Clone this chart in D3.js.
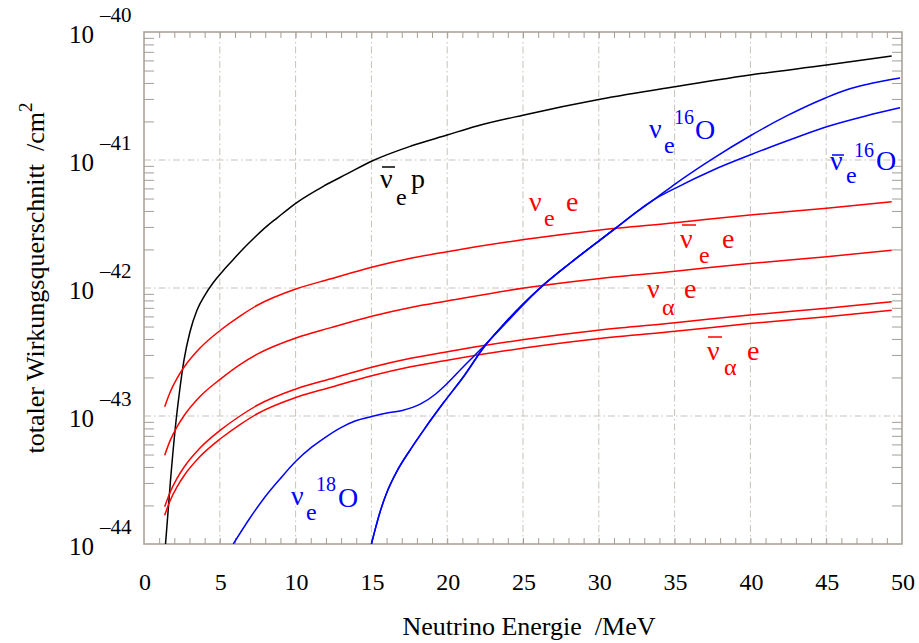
<!DOCTYPE html>
<html><head><meta charset="utf-8">
<script src="https://cdn.jsdelivr.net/npm/d3@7"></script>
<style>body{margin:0;background:#fff}svg{display:block}text{white-space:pre}</style>
</head><body>
<svg id="c" width="919" height="643"></svg>
<script>
// ---- data (energies in MeV, cross sections in cm^2) ----
const xTicks = [0,5,10,15,20,25,30,35,40,45,50];
const yExponents = [-44,-43,-42,-41,-40];

const nuebarP_E = [1.42,1.75,2.05,2.34,2.64,3.03,3.5,4.02,4.55,5.15,5.74,6.53,7.26,8.05,8.77,10.03,11.87,13.39,15.04,17.61,19.99,21.97,25.07,30.08,35.03,39.97,45.03,49.32];
const nuebarP_S = [1.0e-44,3.16e-44,7.78e-44,1.54e-43,2.74e-43,4.53e-43,6.73e-43,8.81e-43,1.094e-42,1.334e-42,1.596e-42,2.018e-42,2.46e-42,3.0e-42,3.52e-42,4.61e-42,6.27e-42,7.78e-42,9.82e-42,1.285e-41,1.567e-41,1.845e-41,2.25e-41,2.98e-41,3.74e-41,4.61e-41,5.52e-41,6.49e-41];

// neutrino-electron scattering, common energy grid
const scatE = [1.365,1.715,2.177,2.639,3.694,5.059,6.332,7.474,10.11,12.27,15.02,17.59,20.01,25.07,30.08,35.03,39.97,45.03,49.32];
const nueE_S = [1.183e-43,1.528e-43,1.968e-43,2.404e-43,3.396e-43,4.70e-43,6.04e-43,7.33e-43,9.91e-43,1.175e-42,1.452e-42,1.706e-42,1.923e-42,2.39e-42,2.84e-42,3.236e-42,3.715e-42,4.20e-42,4.72e-42];
const nuebarE_S = [4.94e-44,6.39e-44,8.23e-44,1.005e-43,1.42e-43,1.95e-43,2.52e-43,3.04e-43,4.10e-43,4.88e-43,6.02e-43,7.05e-43,7.92e-43,9.99e-43,1.187e-42,1.353e-42,1.553e-42,1.756e-42,1.973e-42];
const nuaE_S = [1.958e-44,2.529e-44,3.257e-44,3.979e-44,5.62e-44,7.78e-44,1.0e-43,1.213e-43,1.640e-43,1.945e-43,2.403e-43,2.823e-43,3.183e-43,3.955e-43,4.70e-43,5.356e-43,6.148e-43,6.951e-43,7.81e-43];
const nuabarE_S = [1.68e-44,2.17e-44,2.795e-44,3.414e-44,4.82e-44,6.67e-44,8.58e-44,1.041e-43,1.407e-43,1.669e-43,2.062e-43,2.423e-43,2.731e-43,3.394e-43,4.03e-43,4.595e-43,5.275e-43,5.964e-43,6.70e-43];

const nue18O_E = [5.89,6.99,7.98,8.97,10.03,11.08,11.94,12.93,13.92,15.02,16.03,17.04,18.25,19.24,20.01,21.11,22.43,23.75,25.07,26.12,28.1,30.08,31.18];
const nue18O_S = [1.0e-44,1.596e-44,2.328e-44,3.22e-44,4.45e-44,5.73e-44,6.79e-44,8.05e-44,9.14e-44,9.91e-44,1.054e-43,1.104e-43,1.242e-43,1.486e-43,1.80e-43,2.46e-43,3.52e-43,5.14e-43,7.50e-43,9.95e-43,1.56e-42,2.37e-42,2.98e-42];

const nue16O_E = [15.0,15.24,15.57,16.03,16.69,17.55,18.54,19.79,21.11,22.43,23.75,25.07,26.12,28.1,30.08,31.18,32.5,33.6,35.03,37.55,39.97,42.39,45.03,46.31,47.67,49.87];
const nue16O_S = [1.0e-44,1.288e-44,1.778e-44,2.547e-44,3.715e-44,5.42e-44,8.05e-44,1.285e-43,2.054e-43,3.46e-43,5.24e-43,7.64e-43,1.0e-42,1.56e-42,2.37e-42,2.98e-42,3.94e-42,4.87e-42,6.49e-42,1.03e-41,1.54e-41,2.21e-41,3.08e-41,3.52e-41,3.89e-41,4.375e-41];

const nuebar16O_E = [15.0,15.24,15.57,16.03,16.69,17.55,18.54,19.79,21.11,22.43,23.75,25.07,26.12,28.1,30.08,31.18,32.5,33.6,35.03,37.55,39.97,42.39,45.03,47.67,49.87];
const nuebar16O_S = [1.0e-44,1.288e-44,1.778e-44,2.547e-44,3.715e-44,5.42e-44,8.05e-44,1.285e-43,2.054e-43,3.46e-43,5.24e-43,7.64e-43,1.0e-42,1.56e-42,2.37e-42,2.98e-42,3.94e-42,4.87e-42,6.01e-42,8.36e-42,1.094e-41,1.406e-41,1.82e-41,2.22e-41,2.56e-41];

// ---- layout ----
const svg = d3.select('#c');
const L = 144, R = 902, T = 32, B = 544;
const x = d3.scaleLinear().domain([0,50]).range([L,R]);
const y = d3.scaleLog().domain([1e-44,1e-40]).range([B,T]);
const frameCol = '#a59d94', gridCol = '#c9c2ba';
const serif = '"Liberation Serif","Times New Roman",serif';

// grid
const g = svg.append('g');
xTicks.slice(1,-1).forEach(v => g.append('line').attr('x1',x(v)).attr('x2',x(v)).attr('y1',T).attr('y2',B)
  .attr('stroke',gridCol).attr('stroke-width',1).attr('stroke-dasharray','7,3,1.5,3'));
yExponents.slice(1,-1).forEach(e => g.append('line').attr('x1',L).attr('x2',R).attr('y1',y(Math.pow(10,e))).attr('y2',y(Math.pow(10,e)))
  .attr('stroke',gridCol).attr('stroke-width',1).attr('stroke-dasharray','7,3,1.5,3'));

// minor ticks
const xAxisB = d3.axisBottom(x).tickValues(d3.range(1,50)).tickSize(-6).tickFormat('');
const xAxisT = d3.axisTop(x).tickValues(d3.range(1,50)).tickSize(-6).tickFormat('');
const minorY = [];
for (let e=-44;e<-40;e++) for (let m=2;m<=9;m++) minorY.push(m*Math.pow(10,e));
const yAxisL = d3.axisLeft(y).tickValues(minorY).tickSize(-10).tickFormat('');
const yAxisR = d3.axisRight(y).tickValues(minorY).tickSize(-10).tickFormat('');
[[xAxisB,`translate(0,${B})`],[xAxisT,`translate(0,${T})`],[yAxisL,`translate(${L},0)`],[yAxisR,`translate(${R},0)`]].forEach(([ax,tr])=>{
  const a = svg.append('g').attr('transform',tr).call(ax);
  a.select('.domain').remove();
  a.selectAll('line').attr('stroke',frameCol).attr('stroke-width',1);
});

// frame
svg.append('rect').attr('x',L).attr('y',T).attr('width',R-L).attr('height',B-T)
  .attr('fill','none').attr('stroke',frameCol).attr('stroke-width',1.5);

// curves
svg.append('clipPath').attr('id','clip').append('rect').attr('x',L).attr('y',T).attr('width',R-L).attr('height',B-T);
const line = d3.line().x(d=>x(d[0])).y(d=>y(d[1])).curve(d3.curveMonotoneX);
const series = [
  [nuebarP_E,nuebarP_S,'#000000'],
  [scatE,nueE_S,'#ff0000'],
  [scatE,nuebarE_S,'#ff0000'],
  [scatE,nuaE_S,'#ff0000'],
  [scatE,nuabarE_S,'#ff0000'],
  [nue18O_E,nue18O_S,'#0000ff'],
  [nue16O_E,nue16O_S,'#0000ff'],
  [nuebar16O_E,nuebar16O_S,'#0000ff']
];
const cg = svg.append('g').attr('clip-path','url(#clip)');
series.forEach(([E,S,c]) => cg.append('path').datum(E.map((e,i)=>[e,S[i]])).attr('d',line)
  .attr('fill','none').attr('stroke',c).attr('stroke-width',1.5));

// tick labels
xTicks.forEach(v => svg.append('text').attr('x',x(v)+1).attr('y',590).attr('text-anchor','middle')
  .attr('font-family',serif).attr('font-size',24).text(v));
yExponents.forEach(e => {
  const yy = y(Math.pow(10,e));
  svg.append('text').attr('x',94).attr('y',yy+11).attr('text-anchor','end')
    .attr('font-family',serif).attr('font-size',25).text('10');
  svg.append('text').attr('x',100).attr('y',yy-10).attr('text-anchor','start')
    .attr('font-family',serif).attr('font-size',21).text('\u2013'+Math.abs(e));
});

// axis titles
svg.append('text').attr('x',529).attr('y',635).attr('text-anchor','middle')
  .attr('font-family',serif).attr('font-size',26).text('Neutrino Energie  /MeV');
const yt = svg.append('text').attr('transform','translate(44,278) rotate(-90)').attr('text-anchor','middle')
  .attr('font-family',serif).attr('font-size',26);
yt.append('tspan').text('totaler Wirkungsquerschnitt  /cm');
yt.append('tspan').attr('dy',-12).attr('font-size',19).text('2');

// curve labels
function piece(t,px,py,size,col){ svg.append('text').attr('x',px).attr('y',py).attr('font-family',serif)
  .attr('font-size',size).attr('fill',col).text(t); }
function bar(x1,x2,py,col){ svg.append('line').attr('x1',x1).attr('x2',x2).attr('y1',py).attr('y2',py).attr('stroke',col).attr('stroke-width',1.5); }
const nu='\u03bd', alpha='\u03b1';
// nubar_e p
bar(382,395,167,'#000'); piece(nu,380,188,28,'#000'); piece('e',396,205,24,'#000'); piece('p',411,188,28,'#000');
// nu_e e
piece(nu,529,211,28,'#f00'); piece('e',544,226,24,'#f00'); piece('e',566,211,28,'#f00');
// nubar_e e
bar(682,696,225,'#f00'); piece(nu,680,248,28,'#f00'); piece('e',699,263,24,'#f00'); piece('e',722,248,28,'#f00');
// nu_alpha e
piece(nu,647,298,28,'#f00'); piece(alpha,662,315,24,'#f00'); piece('e',684,298,28,'#f00');
// nubar_alpha e
bar(708,722,337,'#f00'); piece(nu,707,360,28,'#f00'); piece(alpha,724,375,24,'#f00'); piece('e',747,360,28,'#f00');
// nu_e 16O
piece(nu,649,138,28,'#00f'); piece('e',664,153,24,'#00f'); piece('16',674,124,20,'#00f'); piece('O',695,139,28,'#00f');
// nubar_e 16O
bar(832,844,155,'#00f'); piece(nu,830,170,28,'#00f'); piece('e',846,183,24,'#00f'); piece('16',854,157,20,'#00f'); piece('O',876,170,28,'#00f');
// nu_e 18O
piece(nu,291,505,28,'#00f'); piece('e',306,520,24,'#00f'); piece('18',316,491,20,'#00f'); piece('O',338,507,28,'#00f');
</script>
</body></html>
